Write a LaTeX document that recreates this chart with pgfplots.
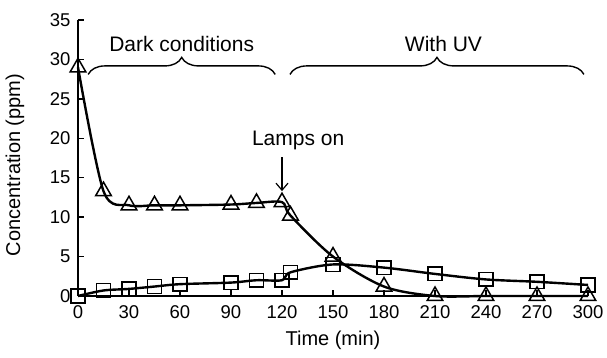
\documentclass[border=0pt]{standalone}
\usepackage{pgfplots}
\pgfplotsset{compat=1.18}
\usepackage{fontspec}
\setmainfont{Liberation Sans}
\usetikzlibrary{decorations.pathreplacing,arrows.meta}

\pgfplotstableread{
t c
0 29
15 13.3
30 11.5
45 11.5
60 11.5
90 11.6
105 11.8
120 11.9
125 10.2
150 5.0
180 1.2
210 0
240 0
270 0
300 0
}\tri

\pgfplotstableread{
t c
0 0
15 0.7
30 0.9
45 1.2
60 1.5
90 1.7
105 2.0
120 2.0
125 3.0
150 4.0
180 3.6
210 2.8
240 2.1
270 1.8
300 1.4
}\sqr

\begin{document}
\begin{tikzpicture}
\useasboundingbox (-78pt,-62pt) rectangle (529pt,296pt);
\begin{axis}[
  at={(0,0)}, anchor=south west,
  scale only axis, width=510pt, height=276pt,
  xmin=0, xmax=300, ymin=0, ymax=35,
  axis lines=left,
  axis line style={line width=1.5pt,-},
  xtick={0,30,...,300}, ytick={0,5,...,35},
  tick align=inside, major tick length=6pt,
  tick style={line width=1.4pt,black},
  ticklabel style={font=\fontsize{18.5}{20}\selectfont},
  xticklabel style={yshift=-6pt},
  yticklabel style={xshift=-4pt},
  /pgf/number format/assume math mode=true,
  xlabel={Time (min)}, ylabel={Concentration (ppm)},
  label style={font=\fontsize{20}{22}\selectfont},
  xlabel style={at={(axis description cs:0.5,-0.159)}, anchor=center},
  ylabel style={at={(axis description cs:-0.1235,0.475)}, anchor=center},
  clip=false,
]
\addplot[black, line width=2.4pt, smooth, tension=0.5, mark=triangle, mark size=9pt,
  mark options={fill=white, draw=black, line width=1.5pt, solid}] table[x=t,y=c] {\tri};
\addplot[black, line width=2.4pt, smooth, tension=0.5, mark=square, mark size=6.8pt,
  mark options={fill=white, draw=black, line width=1.5pt, solid}] table[x=t,y=c] {\sqr};

\draw[decorate, decoration={brace, amplitude=17pt}, line width=1.4pt] (axis cs:6,28.1) -- (axis cs:116,28.1);
\draw[decorate, decoration={brace, amplitude=17pt}, line width=1.4pt] (axis cs:124.7,28.1) -- (axis cs:297.6,28.1);
\node[font=\fontsize{21}{24}\selectfont] at (axis cs:61,32) {Dark conditions};
\node[font=\fontsize{21}{24}\selectfont] at (axis cs:215,32) {With UV};
\node[font=\fontsize{21}{24}\selectfont] at (axis cs:129.5,19.75) {Lamps on};
\draw[-{Straight Barb[length=7pt,width=12pt]}, line width=1.2pt] (axis cs:120,17.6) -- (axis cs:120,13.3);
\end{axis}
\end{tikzpicture}
\end{document}
